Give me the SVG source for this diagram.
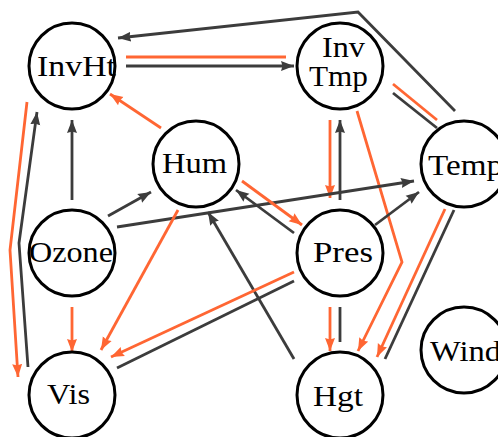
<svg xmlns="http://www.w3.org/2000/svg" width="498" height="437" viewBox="0 0 498 437">
<defs>
<marker id="ad" markerUnits="userSpaceOnUse" markerWidth="14" markerHeight="11" refX="13" refY="5" orient="auto" viewBox="0 0 14 10">
<path d="M0,0 L13,5 L0,10 L1.5,5 Z" fill="#3c3c3c"/>
</marker>
<marker id="ao" markerUnits="userSpaceOnUse" markerWidth="14" markerHeight="11" refX="13" refY="5" orient="auto" viewBox="0 0 14 10">
<path d="M0,0 L13,5 L0,10 L1.5,5 Z" fill="#ff6633"/>
</marker>
<style>
.d{fill:none;stroke:#3c3c3c;stroke-width:2.8}
.o{fill:none;stroke:#ff6633;stroke-width:2.8}
.da{marker-end:url(#ad)}
.oa{marker-end:url(#ao)}
.n circle{fill:#fff;stroke:#000;stroke-width:3}
.n text{font-family:"Liberation Serif","Times New Roman",serif;font-size:29px;fill:#000}
</style>
</defs>
<g id="edges">
<polyline class="d da" points="455,111 358,12 118,38"/>
<line class="o" x1="126" y1="57" x2="286" y2="57"/>
<line class="d da" x1="126" y1="66" x2="294" y2="66"/>
<line class="o" x1="393" y1="84" x2="437" y2="120"/>
<line class="d" x1="393" y1="93" x2="437" y2="128"/>
<line class="o oa" x1="330" y1="120" x2="330" y2="198"/>
<line class="d da" x1="340" y1="200" x2="340" y2="120"/>
<polyline class="o oa" points="357,111 402,262 358,351"/>
<line class="o oa" x1="445" y1="209" x2="377" y2="357"/>
<line class="d" x1="454" y1="210" x2="385" y2="359"/>
<line class="o oa" x1="330" y1="307" x2="330" y2="351"/>
<line class="d" x1="340" y1="307" x2="340" y2="342"/>
<line class="d da" x1="375" y1="225" x2="419" y2="192"/>
<line class="d da" x1="117" y1="227" x2="414" y2="181"/>
<line class="d da" x1="108" y1="216" x2="151" y2="192"/>
<line class="d da" x1="72" y1="200" x2="72" y2="120"/>
<line class="o oa" x1="161" y1="128" x2="110" y2="94"/>
<line class="o oa" x1="242" y1="181" x2="302" y2="225"/>
<line class="d da" x1="294" y1="233" x2="236" y2="190"/>
<line class="d da" x1="294" y1="359" x2="208" y2="212"/>
<line class="o oa" x1="178" y1="210" x2="101" y2="350"/>
<line class="o oa" x1="294" y1="272" x2="111" y2="357"/>
<line class="d" x1="294" y1="281" x2="117" y2="368"/>
<line class="o oa" x1="72" y1="307" x2="72" y2="352"/>
<polyline class="o oa" points="27,102 10,250 18,377"/>
<polyline class="d da" points="28,367 19,243 37,112"/>
</g>
<g id="InvHt" class="n"><circle cx="72" cy="66" r="43"/><text x="37" y="76" textLength="79" lengthAdjust="spacingAndGlyphs">InvHt</text></g>
<g id="InvTmp" class="n"><circle cx="340" cy="66" r="43"/><text x="322" y="57" textLength="43" lengthAdjust="spacingAndGlyphs">Inv</text><text x="309" y="86" textLength="59" lengthAdjust="spacingAndGlyphs">Tmp</text></g>
<g id="Hum" class="n"><circle cx="196" cy="164" r="43"/><text x="162" y="173" textLength="65" lengthAdjust="spacingAndGlyphs">Hum</text></g>
<g id="Temp" class="n"><circle cx="464" cy="164" r="43"/><text x="428" y="175" textLength="75" lengthAdjust="spacingAndGlyphs">Temp</text></g>
<g id="Ozone" class="n"><circle cx="72" cy="253" r="43"/><text x="29" y="262" textLength="84" lengthAdjust="spacingAndGlyphs">Ozone</text></g>
<g id="Pres" class="n"><circle cx="340" cy="253" r="43"/><text x="313" y="262" textLength="60" lengthAdjust="spacingAndGlyphs">Pres</text></g>
<g id="Wind" class="n"><circle cx="464" cy="350" r="43"/><text x="430" y="361" textLength="71" lengthAdjust="spacingAndGlyphs">Wind</text></g>
<g id="Vis" class="n"><circle cx="72" cy="395" r="43"/><text x="47" y="404" textLength="43" lengthAdjust="spacingAndGlyphs">Vis</text></g>
<g id="Hgt" class="n"><circle cx="340" cy="395" r="43"/><text x="313" y="406" textLength="50" lengthAdjust="spacingAndGlyphs">Hgt</text></g>
</svg>
